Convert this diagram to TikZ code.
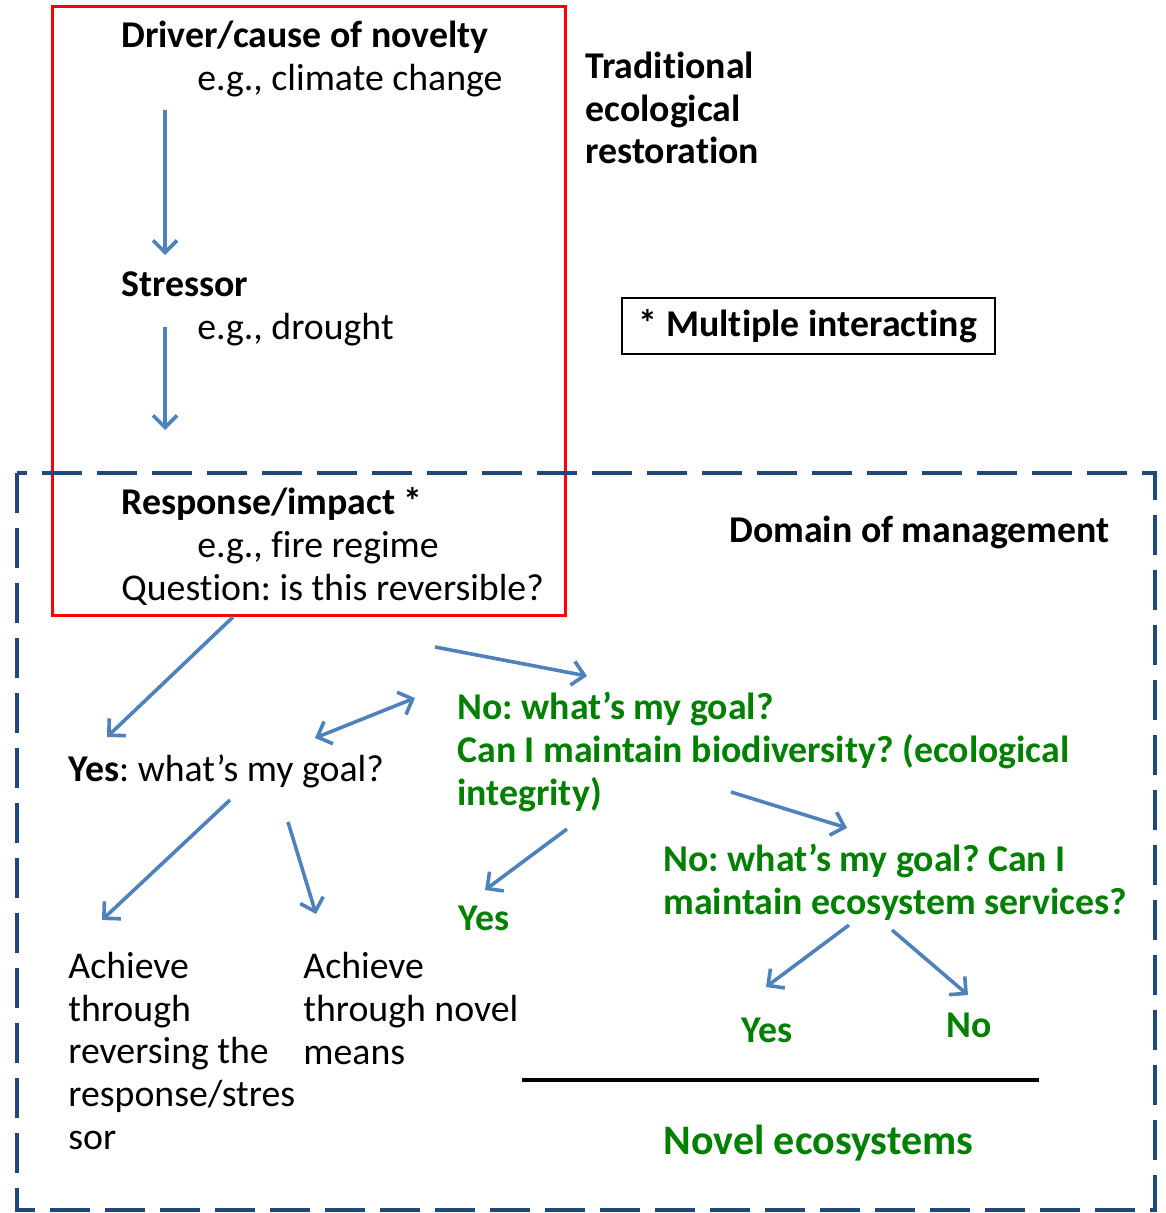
\documentclass[tikz,border=0pt]{standalone}
\usepackage{fontspec}
\setmainfont{Carlito}[Ligatures=NoCommon]
\frenchspacing
\usetikzlibrary{arrows.meta}
\definecolor{flowblue}{RGB}{79,129,189}
\definecolor{novelgreen}{RGB}{0,128,0}
\definecolor{domainblue}{RGB}{31,73,125}
\tikzset{
    txt/.style={anchor=base west,inner sep=0pt,align=left,
        font=\fontsize{18.9}{21.3}\selectfont},
    boldtxt/.style={txt,font=\fontsize{18.9}{21.3}\selectfont\bfseries},
    greentxt/.style={boldtxt,text=novelgreen},
    flow/.style={draw=flowblue,line width=1.8pt,
        -{Straight Barb[length=6pt,width=12pt,line width=1.8pt]}},
    twoflow/.style={flow,{Straight Barb[length=6pt,width=12pt,line width=1.8pt]}-{Straight Barb[length=6pt,width=12pt,line width=1.8pt]}}
}

\begin{document}
\begin{tikzpicture}[x=0.5pt,y=-0.5pt]
        \useasboundingbox (0,0) rectangle (1165,1213);
        \coordinate (D1) at (165,110);
        \coordinate (D2) at (165,255);
        \coordinate (S1) at (165,327);
        \coordinate (S2) at (165,430);
        \coordinate (R1) at (233,617);
        \coordinate (R2) at (107,737);
        \coordinate (R3) at (435,647);
        \coordinate (R4) at (587,676);
        \coordinate (G1) at (315,738);
        \coordinate (G2) at (415,698);
        \coordinate (B1) at (731,792);
        \coordinate (B2) at (847,828);
        \coordinate (Y1) at (230,800);
        \coordinate (Y2) at (102,920);
        \coordinate (Y3) at (288,822);
        \coordinate (Y4) at (316,914);
        \coordinate (B3) at (567,829);
        \coordinate (B4) at (485,890);
        \coordinate (E1) at (849,925);
        \coordinate (E2) at (766,987);
        \coordinate (E3) at (892,930);
        \coordinate (E4) at (968,995);
        \coordinate (L1) at (522,1080);
        \coordinate (L2) at (1039,1080);
        \draw[red,line width=1.5pt] (52,7) rectangle (565,615);
        \draw[domainblue,line width=2.2pt,dash pattern=on 20pt off 7.5pt] (17,473) rectangle (1155,1210);
        \node[boldtxt] (driver) at (121,48) {Driver/cause of novelty};
        \node[txt] (climate) at (197,91) {e.g., climate change};
        \node[boldtxt] (trad) at (585,164) {Traditional\\ecological\\restoration};
        \node[boldtxt] (stressor) at (121,297) {Stressor};
        \node[txt] (drought) at (197,340) {e.g., drought};
        \node[draw,line width=1pt,inner sep=0pt,minimum width=186.5pt,minimum height=28pt,
            font=\fontsize{18.9}{21.3}\selectfont\bfseries] (multi) at (808,326) {* Multiple interacting};
        \node[boldtxt] (response) at (121,514) {Response/impact *};
        \node[txt] (fire) at (197,557) {e.g., fire regime};
        \node[txt] (question) at (121,600) {Question: is this reversible?};
        \node[boldtxt] (domain) at (729,542) {Domain of management};
        \node[txt] (yesgoal) at (68,781) {\textbf{Yes}: what’s my goal?};
        \node[greentxt] (biodiv) at (457,805) {No: what’s my goal?\\Can I maintain biodiversity? (ecological\\integrity)};
        \node[greentxt] (services) at (663,914) {No: what’s my goal? Can I\\maintain ecosystem services?};
        \node[greentxt] (yesbio) at (458,930) {Yes};
        \node[txt] (reverse) at (68,1149) {Achieve\\through\\reversing the\\response/stres\\sor};
        \node[txt] (means) at (303,1064) {Achieve\\through novel\\means};
        \node[greentxt,anchor=base] (yesserv) at (767,1042) {Yes};
        \node[greentxt,anchor=base] (noserv) at (969,1037) {No};
        \node[greentxt,font=\fontsize{21}{24}\selectfont\bfseries] (novel) at (663,1154) {Novel ecosystems};
        \draw[line width=2pt] (L1) -- (L2);
        \draw[flow] (D1) -- (D2);
        \draw[flow] (S1) -- (S2);
        \draw[flow] (R1) -- (R2);
        \draw[flow] (R3) -- (R4);
        \draw[twoflow] (G1) -- (G2);
        \draw[flow] (B1) -- (B2);
        \draw[flow] (Y1) -- (Y2);
        \draw[flow] (Y3) -- (Y4);
        \draw[flow] (B3) -- (B4);
        \draw[flow] (E1) -- (E2);
        \draw[flow] (E3) -- (E4);
    \end{tikzpicture}
\end{document}
